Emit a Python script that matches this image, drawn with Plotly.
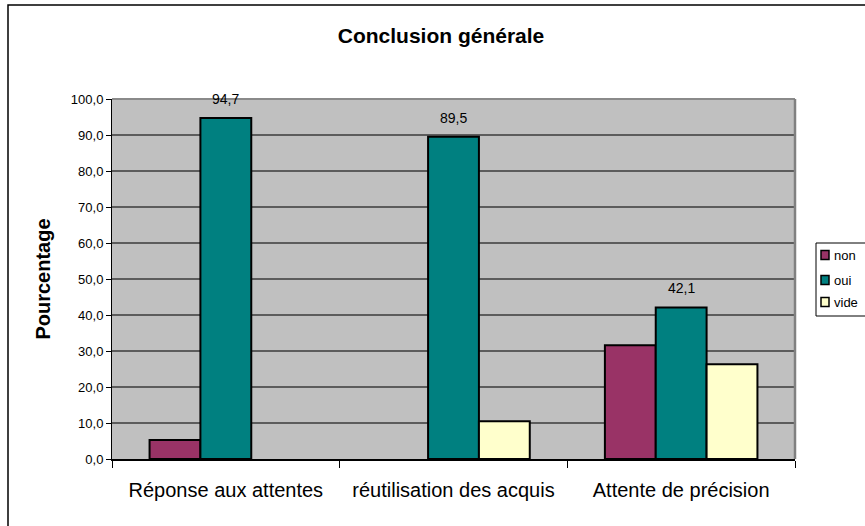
import plotly.graph_objects as go

# ---------------- data ----------------
categories = ["Réponse aux attentes", "réutilisation des acquis", "Attente de précision"]
series_names = ["non", "oui", "vide"]
values_non = [5.3, None, 31.6]
values_oui = [94.7, 89.5, 42.1]
values_vide = [None, 10.5, 26.3]
labelled_series = "oui"
y_ticks = [0, 10, 20, 30, 40, 50, 60, 70, 80, 90, 100]

series_values = {"non": values_non, "oui": values_oui, "vide": values_vide}
colors = {"non": "#993366", "oui": "#008080", "vide": "#FFFFCC"}

FONT = "Liberation Sans, Arial, Helvetica, sans-serif"

# ---------------- layout geometry (pixels) ----------------
W, H = 865, 526
L, R, T, B = 112, 795, 99, 459
PW, PH = R - L, B - T


def px(x):
    return (x - L) / PW


def py(y):
    return (B - y) / PH


fig = go.Figure()
for name in series_names:
    fig.add_trace(go.Bar(
        name=name,
        x=categories,
        y=series_values[name],
        marker=dict(color=colors[name], line=dict(color="black", width=2)),
        showlegend=False,
    ))

annotations = []
vals = series_values[labelled_series]
for cat, v in zip(categories, vals):
    if v is None:
        continue
    annotations.append(dict(
        x=cat, y=v, xref="x", yref="y",
        text=f"{v:.1f}".replace(".", ","),
        showarrow=False, yanchor="bottom", yshift=9,
        font=dict(family=FONT, size=14, color="black"),
    ))

shapes = []
# outer chart border (extends beyond the visible area on the right/bottom)
shapes.append(dict(type="rect", xref="paper", yref="paper",
                   x0=px(8), x1=px(905), y0=py(620), y1=py(5),
                   line=dict(color="black", width=1.5), fillcolor="rgba(0,0,0,0)"))
# plot area frame: top and right edges in gray
shapes.append(dict(type="line", xref="paper", yref="paper", x0=0, x1=1, y0=1, y1=1,
                   line=dict(color="#8a8a8a", width=2), layer="above"))
shapes.append(dict(type="line", xref="paper", yref="paper", x0=1, x1=1, y0=0, y1=1,
                   line=dict(color="#808080", width=2.5), layer="above"))

# legend box (manual, matching the reference layout)
shapes.append(dict(type="rect", xref="paper", yref="paper",
                   x0=px(816), x1=px(905), y0=py(316), y1=py(243),
                   line=dict(color="black", width=1), fillcolor="white"))
legend_rows = [255, 280, 302]
for name, yc in zip(series_names, legend_rows):
    shapes.append(dict(type="rect", xref="paper", yref="paper",
                       x0=px(821), x1=px(829), y0=py(yc + 4.5), y1=py(yc - 4.5),
                       line=dict(color="black", width=1.5), fillcolor=colors[name]))
    annotations.append(dict(x=px(832), y=py(yc), xref="paper", yref="paper",
                            text=name, showarrow=False, xanchor="left", yanchor="middle",
                            font=dict(family=FONT, size=13, color="black")))

fig.update_layout(
    width=W, height=H,
    margin=dict(l=L, r=W - R, t=T, b=H - B, autoexpand=False),
    paper_bgcolor="white",
    plot_bgcolor="#C0C0C0",
    separators=",.",
    barmode="group",
    bargap=0.33,
    bargroupgap=0,
    showlegend=False,
    title=dict(text="<b>Conclusion générale</b>", xref="container", yref="container",
               x=441 / W, y=1 - 36 / H, xanchor="center", yanchor="middle",
               font=dict(family=FONT, size=21, color="black")),
    font=dict(family=FONT, color="black"),
    xaxis=dict(
        type="category",
        showgrid=False,
        showline=True, linecolor="black", linewidth=2,
        ticks="outside", tickson="boundaries", ticklen=7, tickcolor="black", tickwidth=1,
        ticklabelstandoff=12,
        tickfont=dict(family=FONT, size=20, color="black"),
        automargin=False,
    ),
    yaxis=dict(
        range=[0, 100],
        tickvals=y_ticks,
        tickformat=".1f",
        showgrid=True, gridcolor="#5c5c5c", gridwidth=2,
        zeroline=False,
        showline=True, linecolor="black", linewidth=1,
        ticks="outside", ticklen=5, tickcolor="black", tickwidth=1,
        tickfont=dict(family=FONT, size=13, color="black"),
        title=dict(text="<b>Pourcentage</b>", standoff=14,
                   font=dict(family=FONT, size=20, color="black")),
        automargin=False,
    ),
    shapes=shapes,
    annotations=annotations,
)

fig.write_html(
    "out.html",
    config={"displayModeBar": False},
    post_script="document.body.style.margin='0';document.documentElement.style.overflow='hidden';",
)
